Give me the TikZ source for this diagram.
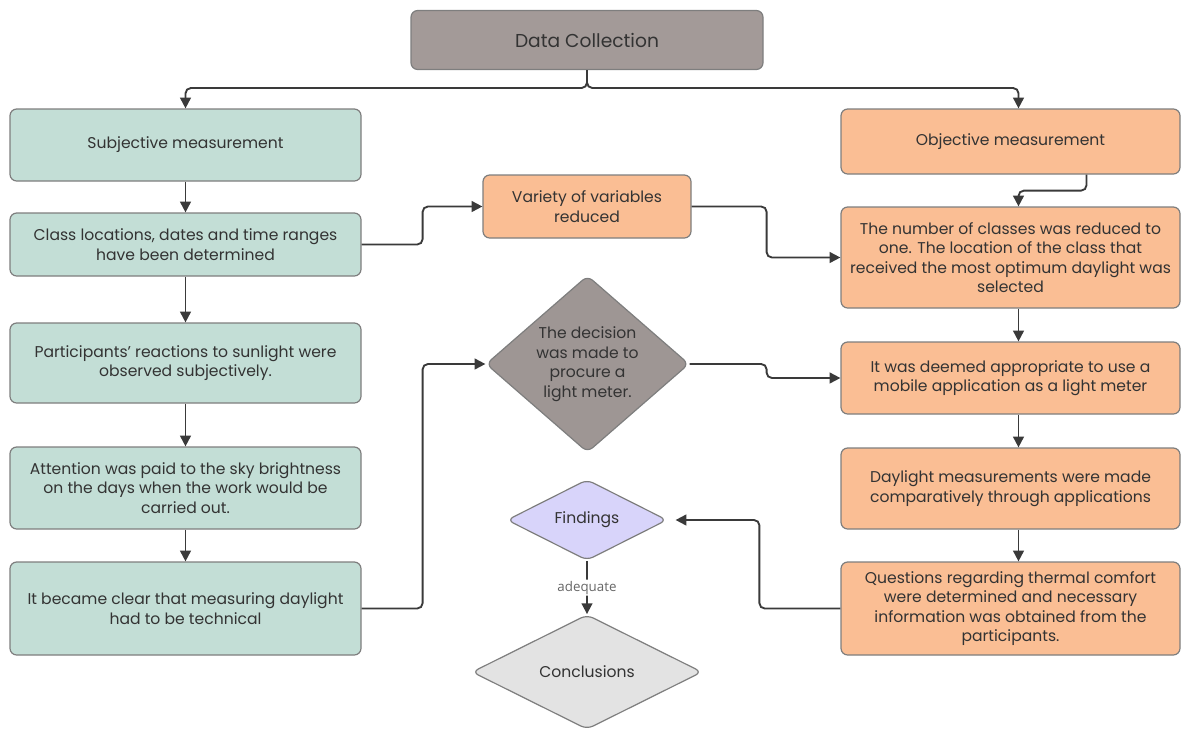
\documentclass[tikz,border=0pt]{standalone}
\usepackage{fontspec}
\setmainfont{Poppins}
\newfontfamily\lblfont{Open Sans}
\usetikzlibrary{shapes.geometric,arrows.meta}
\definecolor{txt}{HTML}{333333}
\definecolor{lnc}{HTML}{3A3A3A}
\definecolor{bord}{HTML}{7E7E7E}
\definecolor{greenf}{HTML}{C3DED6}
\definecolor{orangef}{HTML}{FABE94}
\definecolor{grayf}{HTML}{A39A98}
\definecolor{decf}{HTML}{9E9694}
\definecolor{lavf}{HTML}{D8D4FA}
\definecolor{concf}{HTML}{E3E3E3}
\tikzset{
  box/.style={draw=bord, line width=0.9pt, rounded corners=5pt, align=center, text=txt,
    font=\fontsize{11.7}{14.6}\selectfont, inner sep=2pt},
  gbox/.style={box, fill=greenf, minimum width=263.25pt},
  obox/.style={box, fill=orangef, minimum width=254.25pt},
  dia/.style={diamond, draw=bord, line width=0.9pt, rounded corners=5pt, align=center, text=txt,
    font=\fontsize{11.7}{14.6}\selectfont, inner sep=0pt},
  conn/.style={draw=lnc, line width=1.4pt, rounded corners=4pt, -{Triangle[length=8pt,width=8pt]}}
}
\begin{document}
\begin{tikzpicture}[x=0.75pt,y=-0.75pt]
\useasboundingbox (0,0) rectangle (1190,729);
% top
\node[box, fill=grayf, minimum width=264pt, minimum height=44.25pt, font=\fontsize{14}{16}\selectfont] (dc) at (587,40) {Data Collection};
% left column
\node[gbox, minimum height=54pt] (subj) at (185.5,145) {Subjective measurement};
\node[gbox, minimum height=47.25pt] (cls) at (185.5,244.5) {Class locations, dates and time ranges\\have been determined};
\node[gbox, minimum height=60pt] (part) at (185.5,363) {Participants' reactions to sunlight were\\observed subjectively.};
\node[gbox, minimum height=61.5pt] (att) at (185.5,488) {Attention was paid to the sky brightness\\on the days when the work would be\\carried out.};
\node[gbox, minimum height=69.75pt] (clear) at (185.5,608.5) {It became clear that measuring daylight\\had to be technical};
% middle
\node[box, fill=orangef, minimum width=156pt, minimum height=47.25pt] (var) at (587,206.5) {Variety of variables\\reduced};
\node[dia, fill=decf, minimum width=152.25pt, minimum height=129pt] (dec) at (587.5,364) {The decision\\was made to\\procure a\\light meter.};
\node[dia, fill=lavf, minimum width=120pt, minimum height=60pt] (find) at (587,520) {Findings};
\node[dia, fill=concf, minimum width=172.5pt, minimum height=86pt] (conc) at (587,672) {Conclusions};
% right column
\node[obox, minimum height=48.75pt] (obj) at (1010.5,141.5) {Objective measurement};
\node[obox, minimum height=75.75pt] (num) at (1010.5,257.5) {The number of classes was reduced to\\one. The location of the class that\\received the most optimum daylight was\\selected};
\node[obox, minimum height=54pt] (deem) at (1010.5,378) {It was deemed appropriate to use a\\mobile application as a light meter};
\node[obox, minimum height=60.75pt] (day) at (1010.5,488.5) {Daylight measurements were made\\comparatively through applications};
\node[obox, minimum height=69.75pt] (q) at (1010.5,608.5) {Questions regarding thermal comfort\\were determined and necessary\\information was obtained from the\\participants.};
\coordinate (split) at (587,88);
% connectors
\draw[conn] (dc.south) -- (split) -| (subj.north);
\draw[conn] (dc.south) -- (split) -| ([xshift=6pt]obj.north);
\draw[conn] (subj) -- (cls);
\draw[conn] (cls) -- (part);
\draw[conn] (part) -- (att);
\draw[conn] (att) -- (clear);
\draw[conn] (cls.east) -- ++(61,0) |- (var.west);
\draw[conn] (var.east) -- ++(75,0) |- (num.west);
\draw[conn] ([xshift=57pt]obj.south) -- ++(0,16) -| ([xshift=6pt]num.north);
\draw[conn] ([xshift=6pt]num.south) -- ([xshift=6pt]deem.north);
\draw[conn] ([xshift=6pt]deem.south) -- ([xshift=6pt]day.north);
\draw[conn] ([xshift=6pt]day.south) -- ([xshift=6pt]q.north);
\draw[conn] (clear.east) -- ++(61,0) |- (dec.west);
\draw[conn] (dec.east) -- ++(77,0) |- (deem.west);
\draw[conn] (q.west) -- ++(-81,0) |- ([xshift=6pt]find.east);
\draw[conn] (find.south) -- node[fill=white, text=black!60, font=\lblfont\fontsize{10}{11}\selectfont, inner sep=1pt]{adequate} (conc.north);
\end{tikzpicture}
\end{document}
